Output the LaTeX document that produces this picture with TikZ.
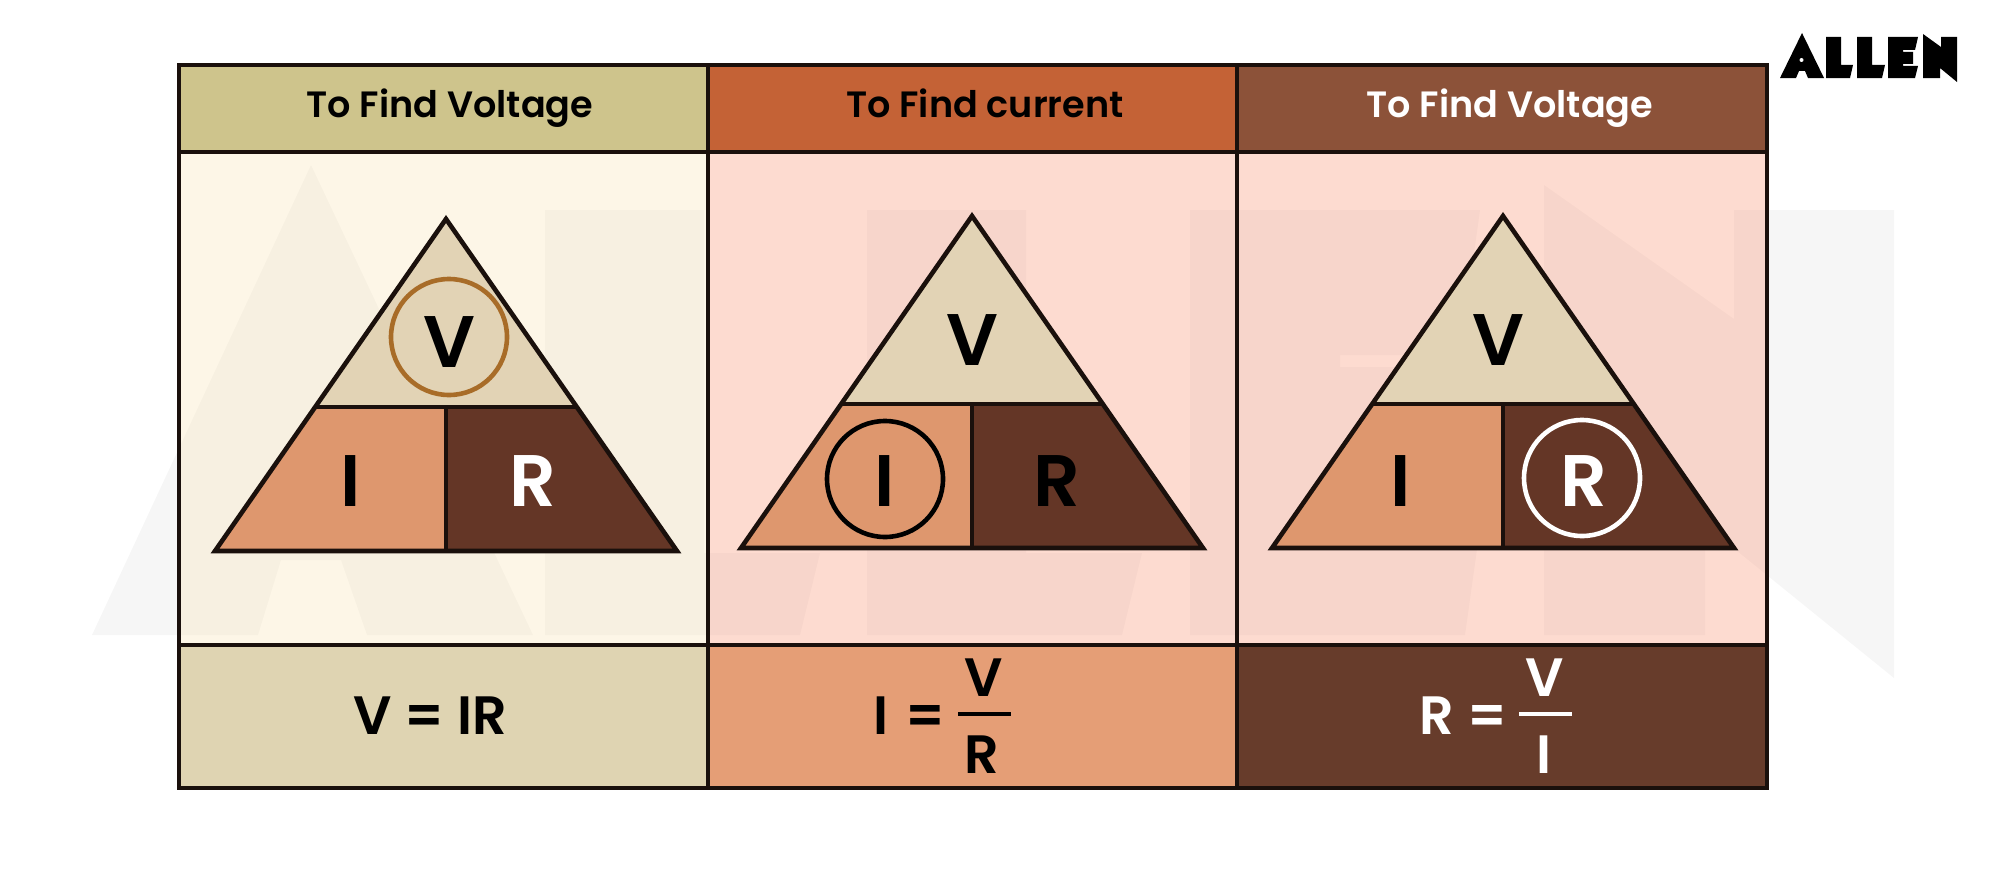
\documentclass[tikz,border=0pt]{standalone}
\usepackage{fontspec}
\newfontfamily\popsb{Poppins SemiBold}
\newcommand{\fsz}[1]{\fontsize{#1}{#1}\selectfont\popsb}
\definecolor{hA}{HTML}{CEC48C}
\definecolor{hB}{HTML}{C46236}
\definecolor{hC}{HTML}{8C5239}
\definecolor{cA}{HTML}{FDF6E7}
\definecolor{cB}{HTML}{FDDBD0}
\definecolor{bA}{HTML}{DFD4B2}
\definecolor{bB}{HTML}{E59E76}
\definecolor{bC}{HTML}{673C2B}
\definecolor{tV}{HTML}{E2D3B5}
\definecolor{tI}{HTML}{DE976E}
\definecolor{tR}{HTML}{643626}
\definecolor{ink}{HTML}{1A100C}
\definecolor{ringV}{HTML}{A86C28}
\tikzset{
  x=1pt,y=-1pt,
  gridline/.style={draw=ink,line width=3.8pt},
  triline/.style={draw=ink,line width=4.6pt,line join=miter},
  ring/.style={line width=4.6pt,fill=none},
  hdr/.style={anchor=base,font=\fsz{36.6}},
  big/.style={anchor=base,font=\fsz{73}},
  formula/.style={anchor=base,font=\fsz{54}},
  fracbar/.style={line width=4.5pt},
  logo/.style={fill=black}
}
\newcommand{\ohmtri}[2]{% apex x, apex y
  \fill[tV] (#1,#2) -- ++(131,188) -- ++(-262,0) -- cycle;
  \fill[tI] (#1,#2) ++(-131,188) -- ++(131,0) -- ++(0,144) -- ++(-231,0) -- cycle;
  \fill[tR] (#1,#2) ++(131,188) -- ++(-131,0) -- ++(0,144) -- ++(231,0) -- cycle;
  \draw[triline] (#1,#2) -- ++(231,332) -- ++(-462,0) -- cycle;
  \draw[triline] (#1,#2) ++(-131,188) -- ++(262,0);
  \draw[triline] (#1,#2) ++(0,188) -- ++(0,144);
}
\newcommand{\wmarks}[1]{%
  \fill[black,opacity=#1,even odd rule] (311,165) -- (533,635) -- (367,635) -- (341,560) -- (281,560) -- (258,635) -- (92,635) -- cycle
    (313,457) circle[radius=22];
  \fill[black,opacity=#1] (545,210) -- (704,210) -- (704,553) -- (820,553) -- (800,635) -- (545,635) -- cycle;
  \fill[black,opacity=#1] (867,210) -- (1026,210) -- (1026,553) -- (1142,553) -- (1122,635) -- (867,635) -- cycle;
  \fill[black,opacity=#1] (1190,210) -- (1480,210) -- (1460,355) -- (1340,355) -- (1340,367) -- (1437,367) -- (1437,477) -- (1340,477) -- (1340,492) -- (1485,492) -- (1465,635) -- (1190,635) -- cycle;
  \fill[black,opacity=#1] (1544,185) -- (1734,319) -- (1734,210) -- (1894,210) -- (1894,678) -- (1705,525) -- (1705,635) -- (1544,635) -- cycle;
}
\begin{document}
\begin{tikzpicture}
\useasboundingbox (0,0) rectangle (1999,875);
\fill[white] (0,0) rectangle (1999,875);
% watermark on the page
\wmarks{0.036}
% cells
\fill[hA] (179,65) rectangle (708,152);
\fill[hB] (708,65) rectangle (1237,152);
\fill[hC] (1237,65) rectangle (1767,152);
\fill[cA] (179,152) rectangle (708,645);
\fill[cB] (708,152) rectangle (1767,645);
\fill[bA] (179,645) rectangle (708,788);
\fill[bB] (708,645) rectangle (1237,788);
\fill[bC] (1237,645) rectangle (1767,788);
% watermark over the cells
\begin{scope}
  \clip (179,152) rectangle (1767,645);
  \wmarks{0.022}
\end{scope}
% grid
\draw[gridline] (179,65) rectangle (1767,788);
\draw[gridline] (179,152) -- (1767,152);
\draw[gridline] (179,645) -- (1767,645);
\draw[gridline] (708,65) -- (708,788);
\draw[gridline] (1237,65) -- (1237,788);
% triangles
\ohmtri{446}{219}
\ohmtri{972}{216}
\ohmtri{1503}{216}
% header
\node[hdr,text=black] (h1) at (450,117) {To Find Voltage};
\node[hdr,text=black] (h2) at (985,117) {To Find current};
\node[hdr,text=white] (h3) at (1510,117) {To Find Voltage};
% triangle letters
\node[big] (v1) at (449,367) {V};
\node[big] (i1) at (351,506) {I};
\node[big,text=white] (r1) at (533,506) {R};
\node[big] (v2) at (972,365) {V};
\node[big] (i2) at (885,506) {I};
\node[big] (r2) at (1057,506) {R};
\node[big] (v3) at (1498,365) {V};
\node[big] (i3) at (1401,506) {I};
\node[big,text=white] (r3) at (1584,506) {R};
% rings
\node[draw=ringV,ring,circle,minimum size=116pt,inner sep=0pt] (c1) at (449,337) {};
\node[draw=black,ring,circle,minimum size=116pt,inner sep=0pt] (c2) at (885,479) {};
\node[draw=white,ring,circle,minimum size=116pt,inner sep=0pt] (c3) at (1582,478) {};
% formulas
\node[formula] (f1) at (430,734) {V = IR};
\node[formula] (f2a) at (881,734) {I};
\node[formula] (f2b) at (925,734) {=};
\node[formula] (f2c) at (983.5,696) {V};
\node[formula] (f2d) at (982,773) {R};
\coordinate (b2l) at (958,714);
\coordinate (b2r) at (1011,714);
\draw[fracbar] (b2l) -- (b2r);
\node[formula,text=white] (f3a) at (1437,734) {R};
\node[formula,text=white] (f3b) at (1487,734) {=};
\node[formula,text=white] (f3c) at (1545,696) {V};
\node[formula,text=white] (f3d) at (1544,773) {I};
\coordinate (b3l) at (1519,714);
\coordinate (b3r) at (1572,714);
\draw[fracbar,white] (b3l) -- (b3r);
% logo
\fill[logo] (1802,33) -- (1780,78) -- (1796,78) -- (1799,71) -- (1805,71) -- (1808,78) -- (1824,78) -- cycle;
\fill[white] (1801.5,60) circle[radius=2];
\fill[logo] (1826,37) -- (1841,37) -- (1841,65) -- (1853,65) -- (1850,78) -- (1826,78) -- cycle;
\fill[logo] (1857,37) -- (1872,37) -- (1872,65) -- (1885,65) -- (1882,78) -- (1857,78) -- cycle;
\fill[logo] (1888,37) -- (1918,37) -- (1915,50) -- (1903,50) -- (1903,52) -- (1913,52) -- (1913,64) -- (1903,64) -- (1903,66) -- (1918,66) -- (1915,78) -- (1888,78) -- cycle;
\fill[logo] (1923,34) -- (1941,47) -- (1941,37) -- (1957,37) -- (1957,82) -- (1940,68) -- (1940,78) -- (1923,78) -- cycle;
\end{tikzpicture}
\end{document}
